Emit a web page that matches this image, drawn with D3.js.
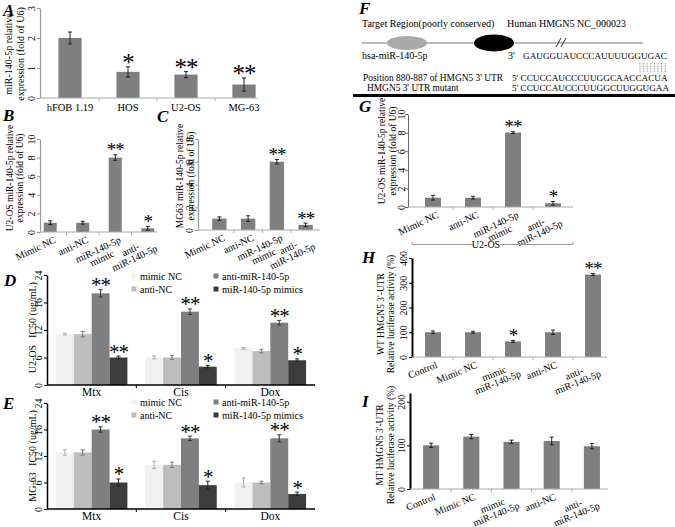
<!DOCTYPE html>
<meta charset="utf-8">
<style>
body { margin: 0; background: #fff; }
svg { display: block; font-family: "Liberation Serif", "Times New Roman", serif; }
</style>
<script src="https://d3js.org/d3.v7.min.js"></script>
<svg width="675" height="527"></svg>
<script>
const svg = d3.select('svg');

// A: miR-140-5p in cell lines
const catA = ['hFOB 1.19', 'HOS', 'U2-OS', 'MG-63'];
const valA = [2.0, 0.87, 0.78, 0.45];
const errA = [0.2, 0.17, 0.1, 0.22];
const sigA = ['', '*', '**', '**'];

// B, C, G: transfection check
const catB = ['Mimic NC', 'anti-NC', 'miR-140-5p\nmimic', 'anti-\nmiR-140-5p'];
const valB = [1.0, 1.0, 8.0, 0.4];
const errB = [0.2, 0.15, 0.3, 0.2];
const sigB = ['', '', '**', '*'];
const valC = [1.0, 1.0, 6.0, 0.45];
const errC = [0.15, 0.25, 0.2, 0.15];
const sigC = ['', '', '**', '**'];
const valG = [1.0, 1.0, 8.0, 0.4];
const errG = [0.25, 0.15, 0.1, 0.2];
const sigG = ['', '', '**', '*'];

// D, E: IC50
const drugs = ['Mtx', 'Cis', 'Dox'];
const groups = ['mimic NC', 'anti-NC', 'anti-miR-140-5p', 'miR-140-5p mimics'];
const groupColors = ['#f1f1f1', '#bdbdbd', '#7f7f7f', '#3c3c3c'];
const icTicks = [0, 6, 12, 18, 24];
const icTickLabels = ['0', '6', '12', '16', '24'];
const valD = [[11.1, 11.1, 20.0, 6.0], [6.0, 6.0, 16.0, 4.0], [8.0, 7.4, 13.6, 5.4]];
const errD = [[0.2, 0.6, 0.8, 0.3], [0.3, 0.4, 0.6, 0.3], [0.2, 0.4, 0.5, 0.3]];
const sigD = [['', '', '**', '**'], ['', '', '**', '*'], ['', '', '**', '*']];
const valE = [[12.8, 12.8, 18.0, 6.0], [10.0, 10.0, 16.0, 5.4], [6.0, 6.0, 16.0, 3.4]];
const errE = [[0.6, 0.6, 0.6, 0.8], [0.8, 0.6, 0.5, 0.9], [1.0, 0.3, 0.8, 0.4]];
const sigE = [['', '', '**', '*'], ['', '', '**', '*'], ['', '', '**', '*']];

// H, I: luciferase
const catH = ['Control', 'Mimic NC', 'mimic\nmiR-140-5p', 'anti-NC', 'anti-\nmiR-140-5p'];
const valH = [100, 100, 63, 100, 333];
const errH = [5, 4, 4, 9, 4];
const sigH = ['', '', '*', '', '**'];
const valI = [100, 120, 108, 110, 98];
const errI = [5, 5, 4, 9, 6];
const sigI = ['', '', '', '', ''];

const barFill = '#7f7f7f';

function letter(t, x, y) {
  svg.append('text').text(t).attr('x', x).attr('y', y)
    .attr('font-size', 17).attr('font-weight', 'bold').attr('font-style', 'italic');
}

function yTitle(lines, xs, cy, fs) {
  lines.forEach((l, i) => svg.append('text').text(l)
    .attr('transform', `translate(${xs[i]},${cy}) rotate(-90)`)
    .attr('text-anchor', 'middle').attr('font-size', fs));
}

function yAxis(y, x0, ticks, labels, color, w, off) {
  const ax = d3.axisLeft(y).tickValues(ticks).tickSize(3).tickSizeOuter(0)
    .tickFormat((d, i) => labels ? labels[i] : d);
  const g = svg.append('g').attr('transform', `translate(${x0},0)`).call(ax)
    .attr('font-family', null).attr('font-size', 10);
  g.select('.domain').attr('stroke', color).attr('stroke-width', w);
  g.selectAll('.tick line').attr('stroke', color);
  g.selectAll('.tick text').attr('x', 0).attr('dy', 0).attr('fill', '#000')
    .attr('text-anchor', 'middle').attr('transform', `translate(${-off},0) rotate(-90)`);
}

function errBar(cx, y, v, e, color) {
  const g = svg.append('g').attr('stroke', color).attr('stroke-width', 1);
  g.append('line').attr('x1', cx).attr('x2', cx).attr('y1', y(v - e)).attr('y2', y(v + e));
  [v - e, v + e].forEach(t => g.append('line').attr('x1', cx - 2).attr('x2', cx + 2).attr('y1', y(t)).attr('y2', y(t)));
}

function sig(s, cx, yTop, fs) {
  if (!s) return;
  svg.append('text').text(s).attr('x', cx).attr('y', yTop - 8 + fs * 0.5)
    .attr('text-anchor', 'middle').attr('font-size', fs).attr('letter-spacing', -1);
}

function xLabels(cats, x, axisY, angle, dx, dy) {
  cats.forEach(c => {
    const lines = c.split('\n');
    const cx = x(c) + x.bandwidth() / 2;
    if (!angle) {
      svg.append('text').text(c).attr('x', cx).attr('y', axisY + dy)
        .attr('text-anchor', 'middle').attr('font-size', 10.5);
      return;
    }
    const g = svg.append('g').attr('transform', `translate(${cx + dx},${axisY + dy}) rotate(${angle})`);
    const t = lines.map((l, i) => g.append('text').text(l).attr('font-size', 10).attr('y', 8 + i * 9.5));
    const w = d3.max(t, s => s.node().getComputedTextLength());
    t.forEach(s => s.attr('x', -w / 2).attr('text-anchor', 'middle'));
  });
}

function simplePanel(p) {
  const x = d3.scaleBand().domain(p.cats).range(p.xr).paddingInner(p.pad).paddingOuter(p.pad / 2);
  const y = d3.scaleLinear().domain(p.yd).range(p.yr);
  const base = y(0);
  svg.append('g').selectAll('rect').data(p.vals).join('rect')
    .attr('x', (d, i) => x(p.cats[i])).attr('width', x.bandwidth())
    .attr('y', d => y(d)).attr('height', d => base - y(d))
    .attr('fill', barFill);
  p.vals.forEach((v, i) => {
    const cx = x(p.cats[i]) + x.bandwidth() / 2;
    errBar(cx, y, v, p.errs[i], '#222');
    sig(p.sigs[i], cx, y(v + p.errs[i]), p.sfs);
  });
  yAxis(y, p.ax, p.ticks, null, p.ycol, p.yw, p.toff);
  svg.append('line').attr('x1', p.ax).attr('x2', p.axEnd).attr('y1', base).attr('y2', base)
    .attr('stroke', '#aaa').attr('stroke-width', 1.2);
  p.cats.forEach((c, i) => {
    if (i === 0) return;
    const bx = x(c) - x.step() * p.pad / 2;
    svg.append('line').attr('x1', bx).attr('x2', bx).attr('y1', base).attr('y2', base + 3).attr('stroke', '#aaa');
  });
  xLabels(p.cats, x, base, p.angle, p.ldx, p.ldy);
  return x;
}

function groupPanel(p) {
  const x0 = d3.scaleBand().domain(drugs).range([47, 315]).paddingInner(0.2).paddingOuter(0.1);
  const x1 = d3.scaleBand().domain(groups).range([0, x0.bandwidth()]);
  const y = d3.scaleLinear().domain([0, 24]).range(p.yr);
  const base = y(0);
  const errCol = ['#aaa', '#777', '#333', '#222'];
  drugs.forEach((d, j) => {
    groups.forEach((gname, k) => {
      const v = p.vals[j][k], e = p.errs[j][k];
      const bx = x0(d) + x1(gname);
      svg.append('rect').attr('x', bx).attr('width', x1.bandwidth())
        .attr('y', y(v)).attr('height', base - y(v)).attr('fill', groupColors[k]);
      errBar(bx + x1.bandwidth() / 2, y, v, e, errCol[k]);
      sig(p.sigs[j][k], bx + x1.bandwidth() / 2, y(v + e), 21);
    });
    svg.append('text').text(d).attr('x', x0(d) + x0.bandwidth() / 2).attr('y', base + 11)
      .attr('text-anchor', 'middle').attr('font-size', 11.5);
  });
  yAxis(y, 47, icTicks, icTickLabels, '#000', 1.5, 5);
  svg.append('line').attr('x1', 47).attr('x2', 315).attr('y1', base).attr('y2', base)
    .attr('stroke', '#000').attr('stroke-width', 1.5);
  drugs.forEach((d, j) => {
    if (j === 0) return;
    const bx = x0(d) - (x0.step() - x0.bandwidth()) / 2;
    svg.append('line').attr('x1', bx).attr('x2', bx).attr('y1', base).attr('y2', base + 3).attr('stroke', '#000');
  });
  // legend
  groups.forEach((gname, k) => {
    const lx = k < 2 ? 134 : 216;
    const ly = p.legY + (k % 2) * 13;
    svg.append('rect').attr('x', lx - 2.5).attr('y', ly - 2.5).attr('width', 5).attr('height', 5).attr('fill', groupColors[k]);
    svg.append('text').text(gname).attr('x', lx + 6).attr('y', ly + 3.5).attr('font-size', 10);
  });
  svg.append('text').text('IC50 (ug/mL)').attr('transform', `translate(36,${p.yr[1] + 35}) rotate(-90)`)
    .attr('text-anchor', 'middle').attr('font-size', 10);
  svg.append('text').text(p.cell).attr('transform', `translate(36,${p.yr[1] + 84}) rotate(-90)`)
    .attr('text-anchor', 'middle').attr('font-size', 10);
}

// ---- A
simplePanel({cats: catA, vals: valA, errs: errA, sigs: sigA, xr: [41, 273], pad: 0.6,
  yd: [0, 3], yr: [98, 8], ticks: [0, 1, 2, 3], ax: 40, axEnd: 257, ycol: '#999', yw: 1.2, toff: 5.5,
  sfs: 25, angle: 0, ldx: 0, ldy: 13});
yTitle(['miR-140-5p relative', 'expression (fold of U6)'], [12, 23.5], 54, 10);
letter('A', 3, 16);

// ---- B
simplePanel({cats: catB, vals: valB, errs: errB, sigs: sigB, xr: [34, 164], pad: 0.6,
  yd: [0, 10], yr: [232, 139], ticks: [0, 2, 4, 6, 8, 10], ax: 40, axEnd: 157, ycol: '#999', yw: 1.2, toff: 5,
  sfs: 19, angle: -25, ldx: 3, ldy: 3});
yTitle(['U2-OS miR-140-5p relative', 'expression (fold of U6)'], [13, 23], 178, 9.5);
letter('B', 3, 121);

// ---- C
simplePanel({cats: catB, vals: valC, errs: errC, sigs: sigC, xr: [205, 320], pad: 0.5,
  yd: [0, 8], yr: [230, 139], ticks: [0, 2, 4, 6, 8], ax: 198, axEnd: 320, ycol: '#999', yw: 1.2, toff: 5,
  sfs: 19, angle: -25, ldx: 3, ldy: 3});
yTitle(['MG63 miR-140-5p relative', 'expression (fold of U6)'], [183, 194], 176, 9.5);
letter('C', 157, 122);

// ---- D, E
groupPanel({vals: valD, errs: errD, sigs: sigD, yr: [385, 275], legY: 276, cell: 'U2-OS'});
letter('D', 4, 286);
groupPanel({vals: valE, errs: errE, sigs: sigE, yr: [509, 403], legY: 402, cell: 'MG-63'});
letter('E', 3, 409);

// ---- F
const fg = svg.append('g').attr('font-size', 10);
fg.append('text').text('Target Region(poorly conserved)').attr('x', 362).attr('y', 27);
fg.append('text').text('Human HMGN5 NC_000023').attr('x', 507).attr('y', 27);
fg.append('line').attr('x1', 362).attr('x2', 643).attr('y1', 43).attr('y2', 43).attr('stroke', '#777').attr('stroke-width', 1.2);
fg.append('ellipse').attr('cx', 407).attr('cy', 43).attr('rx', 20).attr('ry', 7).attr('fill', '#aaa');
fg.append('ellipse').attr('cx', 494).attr('cy', 43).attr('rx', 20).attr('ry', 8.5).attr('fill', '#000');
[556, 561].forEach(bx => fg.append('line').attr('x1', bx).attr('x2', bx + 5).attr('y1', 47).attr('y2', 38).attr('stroke', '#333'));
fg.append('text').text('hsa-miR-140-5p').attr('x', 362).attr('y', 59);
fg.append('text').text("3'").attr('x', 508).attr('y', 59);
fg.append('text').text('GAUGGUAUCCCAUUUUGGUGAC').attr('x', 523).attr('y', 59).attr('font-size', 9.2);
d3.range(8).forEach(i => fg.append('line').attr('x1', 640 + i * 3.6).attr('x2', 640 + i * 3.6)
  .attr('y1', 63).attr('y2', 72).attr('stroke', '#999').attr('stroke-dasharray', '1.5,1'));
fg.append('text').text("Position 880-887 of HMGN5 3' UTR").attr('x', 363).attr('y', 81).attr('font-size', 9.4);
fg.append('text').text("5' CCUCCAUCCCUUGGCAACCACUA").attr('x', 512).attr('y', 81).attr('font-size', 9.2);
fg.append('text').text("HMGN5 3' UTR mutant").attr('x', 367).attr('y', 91).attr('font-size', 9.4);
fg.append('text').text("5' CCUCCAUCCCUUGGCUUGGUGAA").attr('x', 512).attr('y', 91).attr('font-size', 9.2);
fg.append('line').attr('x1', 353).attr('x2', 675).attr('y1', 95.5).attr('y2', 95.5).attr('stroke', '#000').attr('stroke-width', 3);
letter('F', 359, 14);

// ---- G
simplePanel({cats: catB, vals: valG, errs: errG, sigs: sigG, xr: [413, 573], pad: 0.6,
  yd: [0, 10], yr: [207, 114], ticks: [0, 2, 4, 6, 8, 10], ax: 408, axEnd: 573, ycol: '#666', yw: 1, toff: 3.5,
  sfs: 19, angle: -25, ldx: 3, ldy: 3});
yTitle(['U2-OS miR-140-5p relative', 'expression (fold of U6)'], [385, 396], 151, 9.5);
svg.append('path').attr('d', 'M412,242V244.5H473M500,244.5H573V242').attr('fill', 'none').attr('stroke', '#999');
svg.append('text').text('U2-OS').attr('x', 486).attr('y', 248).attr('text-anchor', 'middle').attr('font-size', 10);
letter('G', 359, 112);

// ---- H
simplePanel({cats: catH, vals: valH, errs: errH, sigs: sigH, xr: [413, 613], pad: 0.6,
  yd: [0, 400], yr: [357, 258], ticks: [0, 100, 200, 300, 400], ax: 412, axEnd: 607, ycol: '#000', yw: 2, toff: 5,
  sfs: 19, angle: -22, ldx: 2, ldy: 3});
yTitle(["WT HMGN5 3'-UTR", 'Relative luciferase activity (%)'], [383.5, 394], 314, 9.5);
letter('H', 362, 263);

// ---- I
simplePanel({cats: catH, vals: valI, errs: errI, sigs: sigI, xr: [411, 612], pad: 0.6,
  yd: [0, 220], yr: [489, 393], ticks: [0, 100, 200], ax: 410, axEnd: 608, ycol: '#000', yw: 2, toff: 5,
  sfs: 19, angle: -22, ldx: 2, ldy: 3});
yTitle(["MT HMGN5 3'-UTR", 'Relative luciferase activity (%)'], [383, 393.5], 445, 9.5);
letter('I', 362, 407);
</script>
